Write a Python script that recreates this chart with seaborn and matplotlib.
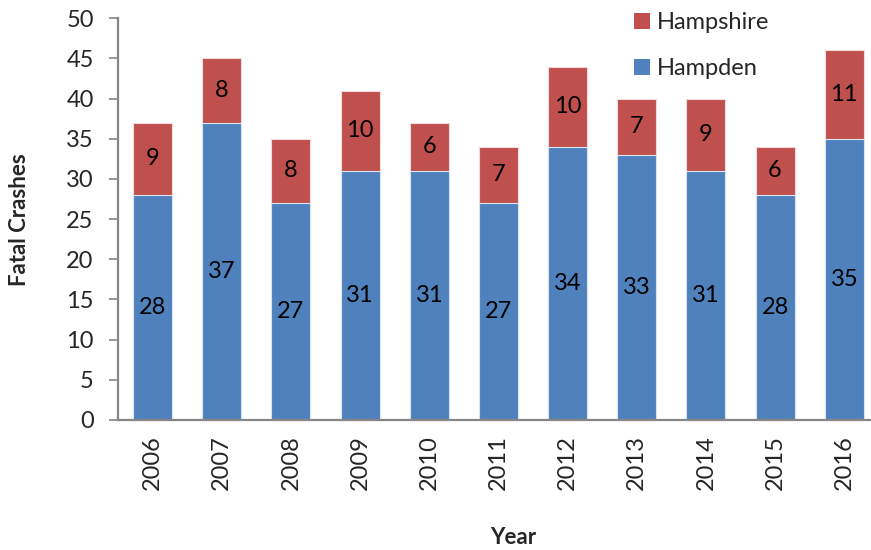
import numpy as np
import pandas as pd
import matplotlib
matplotlib.use("Agg")
import matplotlib.pyplot as plt
import seaborn as sns
from matplotlib.patches import Patch

years = ["2006", "2007", "2008", "2009", "2010", "2011", "2012", "2013", "2014", "2015", "2016"]
hampden = [28, 37, 27, 31, 31, 27, 34, 33, 31, 28, 35]
hampshire = [9, 8, 8, 10, 6, 7, 10, 7, 9, 6, 11]

blue = "#4F81BD"
red = "#C0504D"
axis_gray = "#868686"

sns.set_theme(style="white")
plt.rcParams['font.family'] = ['Lato', 'DejaVu Sans']

df = pd.DataFrame({"Year": years, "Hampden": hampden, "Hampshire": hampshire})
df["Total"] = df["Hampden"] + df["Hampshire"]

fig = plt.figure(figsize=(8.71, 5.5), dpi=100)
ax = fig.add_axes([0.1355, 0.2364, 0.8735, 0.7303])

sns.barplot(data=df, x="Year", y="Total", color=red, saturation=1, width=0.565,
            edgecolor="#f2dcdb", linewidth=0.8, ax=ax)
sns.barplot(data=df, x="Year", y="Hampden", color=blue, saturation=1, width=0.565,
            edgecolor="#dce6f2", linewidth=0.8, ax=ax)

# labels in the middle of each segment
for i, (b, r) in enumerate(zip(hampden, hampshire)):
    ax.text(i, b / 2, str(b), ha="center", va="center", fontsize=17, color="black")
    ax.text(i, b + r / 2, str(r), ha="center", va="center", fontsize=17, color="black")

ax.set_ylim(0, 50)
ax.set_xlim(-0.5, len(years) - 0.5)
ax.set_yticks(np.arange(0, 51, 5))
ax.tick_params(axis="y", direction="out", length=6.5, width=1.2, color=axis_gray,
               pad=11, labelsize=17, left=True)
ax.tick_params(axis="x", length=0, pad=11, labelsize=17, labelrotation=90)

for s in ["top", "right"]:
    ax.spines[s].set_visible(False)
for s in ["left", "bottom"]:
    ax.spines[s].set_color(axis_gray)
    ax.spines[s].set_linewidth(1.6)

ax.set_xlabel("")
ax.set_ylabel("")
fig.text(0.022, 0.6, "Fatal Crashes", rotation=90, ha="center", va="center",
         fontsize=16, fontweight="bold")
fig.text(0.589, 0.022, "Year", ha="center", va="center", fontsize=16, fontweight="bold")

handles = [Patch(facecolor=red, edgecolor="none"), Patch(facecolor=blue, edgecolor="none")]
fig.legend(handles, ["Hampshire", "Hampden"], loc="upper left", bbox_to_anchor=(0.703, 1.016),
           frameon=False, fontsize=17, handlelength=0.7, handleheight=0.7,
           handletextpad=0.3, labelspacing=1.05)

fig.savefig("out.png", dpi=100)
